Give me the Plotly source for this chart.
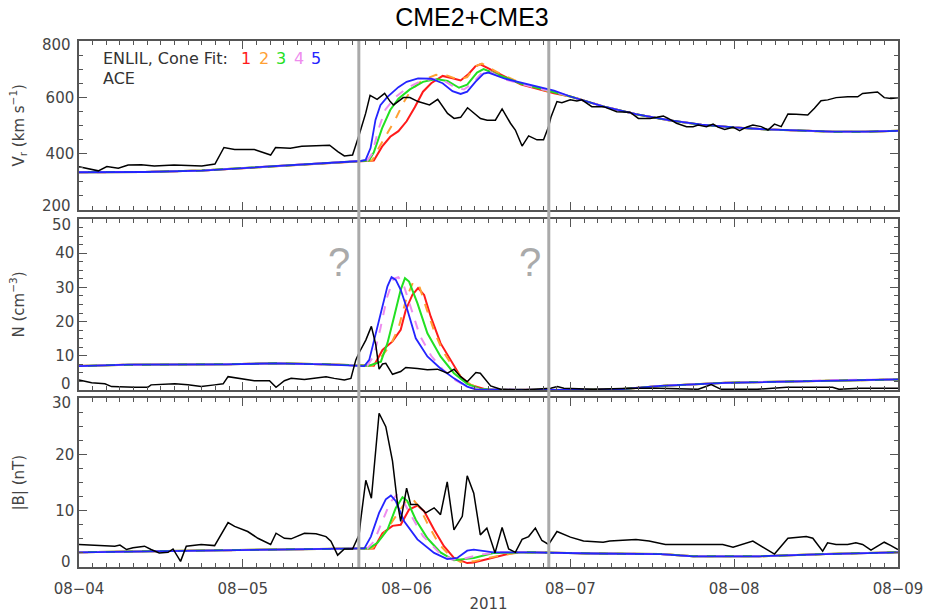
import numpy as np
import pandas as pd
import plotly.graph_objects as go

# ---------------- data (time in days after 2011-08-04 00:00) ----------------
# ACE observations
ACE_V_T = [0, 0.118, 0.17, 0.24, 0.30, 0.38, 0.46, 0.58, 0.75, 0.83, 0.885, 0.95, 1.07, 1.17, 1.20,
           1.29, 1.36, 1.46, 1.53, 1.58, 1.62, 1.67, 1.70, 1.71, 1.75, 1.777, 1.82, 1.866, 1.90, 1.92,
           1.98, 2.02, 2.07, 2.14, 2.19, 2.25, 2.29, 2.33, 2.372, 2.451, 2.492, 2.542, 2.583, 2.634,
           2.664, 2.705, 2.745, 2.796, 2.836, 2.867, 2.881, 2.918, 2.948, 2.999, 3.04, 3.07, 3.131,
           3.202, 3.283, 3.364, 3.415, 3.486, 3.527, 3.567, 3.597, 3.648, 3.709, 3.749, 3.78, 3.831,
           3.871, 3.901, 3.942, 3.993, 4.033, 4.074, 4.114, 4.165, 4.206, 4.246, 4.287, 4.328, 4.378,
           4.449, 4.49, 4.53, 4.571, 4.622, 4.693, 4.754, 4.784, 4.875, 4.916, 4.957, 5.0]
ACE_V = [354, 339, 354, 348, 360, 361, 356, 360, 356, 363, 422, 415, 415, 395, 422,
         419, 426, 427, 430, 407, 392, 395, 443, 466, 543, 607, 593, 614, 585, 573,
         599, 599, 585, 573, 593, 543, 525, 529, 563, 525, 519, 519, 559, 508,
         484, 427, 463, 449, 449, 496, 529, 585, 581, 591, 587, 591, 567,
         567, 549, 547, 525, 525, 529, 534, 525, 508, 496, 496, 502, 496,
         505, 494, 486, 494, 482, 494, 502, 496, 484, 505, 496, 541, 540,
         537, 561, 588, 591, 599, 602, 602, 614, 619, 599, 596, 599]

ACE_N_T = [0, 0.077, 0.158, 0.199, 0.34, 0.42, 0.44, 0.585, 0.665, 0.746, 0.828, 0.88, 0.91, 0.99,
           1.07, 1.163, 1.203, 1.254, 1.295, 1.376, 1.437, 1.508, 1.558, 1.62, 1.66, 1.69, 1.71,
           1.751, 1.785, 1.812, 1.832, 1.853, 1.873, 1.914, 1.964, 1.995, 2.066, 2.127, 2.188, 2.25,
           2.29, 2.33, 2.37, 2.423, 2.45, 2.513, 2.574, 2.7, 2.88, 2.92, 2.96, 3.14, 3.38, 3.54,
           3.78, 3.86, 3.92, 4.0, 4.14, 4.32, 4.6, 4.64, 4.76, 5.0]
ACE_N = [2.9, 2.1, 1.8, 1.0, 0.8, 0.8, 1.5, 1.8, 1.5, 1.0, 1.5, 1.8, 3.9, 3.4,
         2.7, 2.7, 0.8, 2.7, 3.4, 3.1, 3.4, 3.9, 3.4, 2.9, 3.4, 8.8, 10.9,
         14.6, 18.6, 13.2, 6.1, 7.6, 7.8, 4.6, 5.4, 6.6, 6.3, 5.9, 6.1, 4.9,
         6.1, 3.9, 2.4, 5.1, 4.9, 1.2, 0.2, 0.0, 0.5, 1.0, 0.5, 0.2, 0.5, 0.5,
         0.2, 1.6, 0.2, 0.2, 0.2, 0.8, 0.8, 0.2, 0.5, 0.5]

ACE_B_T = [0, 0.138, 0.219, 0.25, 0.29, 0.33, 0.40, 0.44, 0.49, 0.544, 0.574, 0.62, 0.655, 0.746,
           0.828, 0.91, 0.95, 1.03, 1.092, 1.17, 1.203, 1.254, 1.295, 1.376, 1.447, 1.508, 1.538,
           1.579, 1.62, 1.67, 1.71, 1.72, 1.751, 1.785, 1.832, 1.873, 1.914, 1.944, 1.964, 2.0,
           2.025, 2.066, 2.117, 2.168, 2.207, 2.248, 2.289, 2.34, 2.37, 2.41, 2.45, 2.49, 2.54,
           2.583, 2.623, 2.664, 2.705, 2.745, 2.786, 2.826, 2.867, 2.918, 3.0, 3.08, 3.2, 3.24,
           3.32, 3.4, 3.48, 3.58, 3.749, 3.89, 3.93, 3.993, 4.114, 4.246, 4.328, 4.44, 4.48, 4.54,
           4.57, 4.622, 4.693, 4.743, 4.784, 4.835, 4.875, 4.916, 4.957, 5.0]
ACE_B = [4.0, 3.8, 3.7, 3.9, 3.1, 3.4, 3.7, 3.1, 2.5, 2.6, 3.2, 1.0, 3.7, 4.0,
         3.8, 7.9, 7.2, 6.3, 5.1, 4.0, 6.0, 5.1, 5.0, 6.0, 5.9, 5.4, 4.6,
         2.1, 3.2, 3.2, 5.7, 8.4, 15.4, 12.2, 27.3, 24.9, 18.8, 11.4, 8.1, 14.0,
         11.1, 11.1, 9.6, 10.5, 9.3, 15.1, 6.6, 9.0, 16.2, 13.1, 5.7, 6.9, 2.5,
         7.0, 3.2, 2.6, 4.9, 5.4, 6.9, 4.7, 4.0, 6.3, 5.3, 4.6, 4.4, 4.6,
         4.7, 4.9, 4.6, 4.0, 4.0, 3.9, 4.0, 3.5, 4.6, 2.3, 5.1, 5.4, 5.1, 2.8,
         4.3, 4.0, 4.0, 4.3, 4.0, 3.0, 3.7, 4.4, 3.8, 3.1]

# ENLIL cone-fit runs 1..5 : shared pre-arrival background and late tail
BASE_V_T = [0, 0.4, 0.75, 1.17, 1.5, 1.72]
BASE_V = [334, 335, 340, 354, 365, 374]
TAIL_V_T = [3.0, 3.2, 3.4, 3.6, 3.8, 4.0, 4.2, 4.4, 4.6, 4.8, 5.0]
TAIL_V = [603, 568, 540, 519, 503, 493, 486, 482, 478, 478, 481]

RUN_V_T = {
    1: [1.80, 1.85, 1.90, 1.95, 2.00, 2.05, 2.10, 2.15, 2.22, 2.28, 2.33, 2.38, 2.42, 2.45, 2.55, 2.70, 2.90],
    2: [1.79, 1.83, 1.88, 1.93, 1.98, 2.03, 2.10, 2.18, 2.25, 2.32, 2.37, 2.42, 2.46, 2.55, 2.70, 2.90],
    3: [1.77, 1.80, 1.85, 1.90, 1.95, 2.02, 2.10, 2.18, 2.25, 2.32, 2.37, 2.43, 2.47, 2.55, 2.70, 2.90],
    4: [1.76, 1.79, 1.83, 1.87, 1.93, 2.00, 2.08, 2.16, 2.23, 2.30, 2.35, 2.40, 2.46, 2.50, 2.60, 2.80, 2.90],
    5: [1.75, 1.78, 1.81, 1.84, 1.88, 1.95, 2.00, 2.07, 2.15, 2.22, 2.28, 2.33, 2.37, 2.42, 2.47, 2.50, 2.60, 2.80, 2.90],
}
RUN_V = {
    1: [376, 425, 460, 480, 515, 565, 620, 650, 676, 668, 660, 684, 710, 717, 688, 645, 614],
    2: [376, 420, 470, 520, 580, 628, 662, 680, 677, 662, 672, 710, 720, 690, 650, 615],
    3: [376, 405, 490, 555, 595, 628, 655, 665, 658, 634, 645, 688, 700, 682, 648, 618],
    4: [376, 400, 490, 556, 600, 632, 656, 666, 658, 634, 628, 648, 688, 693, 664, 632, 620],
    5: [378, 420, 520, 572, 600, 636, 655, 667, 666, 650, 622, 612, 620, 655, 684, 688, 666, 638, 624],
}

BASE_N_T = [0, 0.3, 0.9, 1.2, 1.5, 1.72]
BASE_N = [7.0, 7.4, 7.5, 7.8, 7.5, 7.1]
TAIL_N_T = [2.55, 3.0, 3.3, 3.55, 3.95, 4.36, 4.62, 5.0]
TAIL_N = [0.1, 0.0, 0.2, 1.2, 2.1, 2.5, 2.9, 3.1]
RUN_N_T = {
    1: [1.80, 1.853, 1.914, 1.964, 1.995, 2.035, 2.07, 2.107, 2.147, 2.207, 2.27, 2.33, 2.39, 2.48],
    2: [1.79, 1.85, 1.90, 1.95, 2.00, 2.04, 2.08, 2.12, 2.17, 2.22, 2.30, 2.38, 2.46],
    3: [1.77, 1.843, 1.883, 1.924, 1.964, 1.99, 2.015, 2.066, 2.127, 2.207, 2.289, 2.37, 2.45],
    4: [1.76, 1.80, 1.84, 1.88, 1.92, 1.95, 1.98, 2.02, 2.08, 2.15, 2.22, 2.30, 2.38, 2.45],
    5: [1.742, 1.772, 1.812, 1.843, 1.883, 1.908, 1.934, 1.964, 2.005, 2.056, 2.127, 2.207, 2.289, 2.37, 2.42],
}
RUN_N = {
    1: [7.1, 11.7, 14.2, 17.6, 23.4, 27.8, 29.8, 27.8, 21.5, 13.7, 8.8, 3.9, 1.5, 0.2],
    2: [7.1, 10.0, 13.0, 18.0, 27.0, 31.6, 30.0, 24.0, 17.0, 11.5, 5.5, 1.8, 0.3],
    3: [7.1, 8.3, 13.7, 21.5, 29.3, 32.7, 31.7, 25.4, 16.6, 9.8, 4.9, 1.8, 0.3],
    4: [7.1, 10.0, 18.0, 27.0, 32.5, 33.0, 31.0, 25.0, 16.0, 10.0, 6.0, 2.8, 0.8, 0.2],
    5: [7.0, 8.8, 16.6, 23.4, 30.3, 33.0, 32.2, 29.3, 23.4, 15.1, 9.8, 6.3, 3.4, 1.0, 0.2],
}

BASE_B_T = [0, 0.4, 0.8, 1.2, 1.72]
BASE_B = [2.6, 2.8, 3.0, 3.1, 3.3]
TAIL_B_T = [2.75, 3.14, 3.55, 3.75, 4.15, 4.56, 5.0]
TAIL_B = [2.6, 2.4, 2.3, 1.9, 1.9, 2.3, 2.6]
RUN_B_T = {
    1: [1.80, 1.853, 1.914, 1.964, 2.015, 2.066, 2.107, 2.168, 2.228, 2.289, 2.37, 2.41, 2.53, 2.63, 2.69],
    2: [1.79, 1.84, 1.90, 1.95, 2.00, 2.04, 2.08, 2.14, 2.20, 2.27, 2.33, 2.41, 2.53, 2.67],
    3: [1.77, 1.822, 1.883, 1.934, 1.975, 2.005, 2.056, 2.127, 2.207, 2.289, 2.33, 2.41, 2.53, 2.67],
    4: [1.76, 1.80, 1.85, 1.90, 1.94, 1.97, 2.02, 2.10, 2.20, 2.28, 2.35, 2.45, 2.55],
    5: [1.742, 1.782, 1.832, 1.873, 1.904, 1.934, 1.985, 2.066, 2.168, 2.248, 2.309, 2.37, 2.41, 2.53],
}
RUN_B = {
    1: [3.3, 6.0, 7.3, 7.5, 10.2, 10.9, 9.9, 6.6, 3.7, 1.6, 0.7, 0.8, 1.6, 2.4, 2.6],
    2: [3.3, 5.0, 7.5, 9.5, 11.8, 12.0, 10.5, 7.0, 4.0, 1.8, 0.9, 1.0, 1.8, 2.5],
    3: [3.3, 4.3, 6.6, 10.5, 12.4, 11.7, 8.4, 5.1, 2.6, 1.2, 1.3, 1.6, 2.5, 2.6],
    4: [3.3, 4.5, 8.0, 11.5, 12.8, 12.2, 9.5, 5.5, 2.5, 1.3, 1.5, 2.2, 2.6],
    5: [3.3, 5.4, 9.6, 12.0, 12.7, 11.7, 8.1, 4.9, 2.5, 1.4, 1.6, 2.9, 3.1, 2.6],
}

RUN_LABELS = ["1", "2", "3", "4", "5"]
RUN_COLORS = {1: "#ff1a1a", 2: "#ffa033", 3: "#22e022", 4: "#ee8cee", 5: "#2424ff"}
RUN_DASH = {1: "solid", 2: "dash", 3: "solid", 4: "dash", 5: "solid"}

# y-axis major ticks of each panel (the end values are labelled slightly inward)
V_TICKS = [200, 400, 600, 800]
N_TICKS = [0, 10, 20, 30, 40, 50]
B_TICKS = [0, 10, 20, 30]

SHOCK_LINES = ["2011-08-05 17:00", "2011-08-06 20:50"]
QMARK_T = [1.585, 2.755]
QMARK_N = 37.4

T0 = pd.Timestamp("2011-08-04")


def to_dt(days):
    return T0 + pd.to_timedelta(np.asarray(days, dtype=float), unit="D")


fig = go.Figure()

panels = [
    ("y", ACE_V_T, ACE_V, BASE_V_T, BASE_V, RUN_V_T, RUN_V, TAIL_V_T, TAIL_V),
    ("y2", ACE_N_T, ACE_N, BASE_N_T, BASE_N, RUN_N_T, RUN_N, TAIL_N_T, TAIL_N),
    ("y3", ACE_B_T, ACE_B, BASE_B_T, BASE_B, RUN_B_T, RUN_B, TAIL_B_T, TAIL_B),
]
xref = {"y": "x", "y2": "x2", "y3": "x3"}
for yref, at, av, bt, bv, rt, rv, tt, tv in panels:
    for k in [1, 2, 3, 4, 5]:
        t = list(bt) + list(rt[k]) + list(tt)
        v = list(bv) + list(rv[k]) + list(tv)
        fig.add_trace(go.Scatter(x=to_dt(t), y=v, mode="lines", xaxis=xref[yref], yaxis=yref,
                                 line=dict(color=RUN_COLORS[k], width=2 if k != 5 else 1.8,
                                           dash=RUN_DASH[k]),
                                 showlegend=False, hoverinfo="skip"))
    fig.add_trace(go.Scatter(x=to_dt(at), y=av, mode="lines", xaxis=xref[yref], yaxis=yref,
                             line=dict(color="black", width=1.5), showlegend=False, hoverinfo="skip"))

W, H = 933, 613
ML, MR, MT, MB = 79, 35, 41, 46
PW, PH = W - ML - MR, H - MT - MB


def px_x(px):
    return (px - ML) / PW


def px_y(py):
    return (H - MB - py) / PH


LABEL_FONT = dict(family="DejaVu Sans", size=15, color="#444444")
axis_common = dict(showline=True, linecolor="#555555", linewidth=1.5, mirror="allticks",
                   ticks="inside", ticklen=8, tickcolor="#555555", tickwidth=1.2,
                   showgrid=False, zeroline=False, tickfont=LABEL_FONT, automargin=False)

xcommon = dict(axis_common, type="date", range=["2011-08-04", "2011-08-09"],
               tick0="2011-08-04", dtick=86400000, tickformat="%m\u2212%d",
               minor=dict(dtick=7200000, ticks="inside", ticklen=4, tickcolor="#555555",
                          tickwidth=1.2, showgrid=False))


def inner_text(ticks):
    return [""] + [str(t) for t in ticks[1:-1]] + [""]


doms = [(px_y(210), px_y(41)), (px_y(390), px_y(219)), (px_y(567), px_y(398))]
yminor = dict(ticks="inside", ticklen=4, tickcolor="#555555", tickwidth=1.2)

fig.update_layout(
    width=W, height=H,
    margin=dict(l=ML, r=MR, t=MT, b=MB, autoexpand=False),
    paper_bgcolor="white", plot_bgcolor="white",
    xaxis=dict(xcommon, anchor="y", showticklabels=False, matches="x3"),
    xaxis2=dict(xcommon, anchor="y2", showticklabels=False, matches="x3"),
    xaxis3=dict(xcommon, anchor="y3", ticklabelstandoff=7,
                title=dict(text="2011", font=LABEL_FONT, standoff=4)),
    yaxis=dict(axis_common, domain=list(doms[0]), anchor="x", range=[200, 800],
               tickmode="array", tickvals=V_TICKS, ticktext=inner_text(V_TICKS),
               minor=dict(yminor, dtick=50, tick0=200)),
    yaxis2=dict(axis_common, domain=list(doms[1]), anchor="x2", range=[0, 50],
                tickmode="array", tickvals=N_TICKS, ticktext=inner_text(N_TICKS),
                minor=dict(yminor, dtick=2.5, tick0=0)),
    yaxis3=dict(axis_common, domain=list(doms[2]), anchor="x3", range=[0, 30],
                tickmode="array", tickvals=B_TICKS, ticktext=inner_text(B_TICKS),
                minor=dict(yminor, dtick=2.5, tick0=0)),
    title=dict(text="CME2+CME3", x=472 / W, xref="container", xanchor="center",
               y=1 - 17.5 / H, yref="container", yanchor="middle",
               font=dict(family="Liberation Sans", size=25, color="black")),
)

# end-of-range tick labels, nudged inward like the reference
end_labels = [(V_TICKS[-1], 45), (V_TICKS[0], 206), (N_TICKS[-1], 225), (N_TICKS[0], 384),
              (B_TICKS[-1], 403), (B_TICKS[0], 562)]
for val, py in end_labels:
    fig.add_annotation(x=px_x(73), y=px_y(py), xref="paper", yref="paper", text=str(val),
                       showarrow=False, xanchor="right", yanchor="middle", font=LABEL_FONT)

for s in SHOCK_LINES:
    fig.add_shape(type="line", xref="x3", yref="paper", x0=s, x1=s, y0=0, y1=1,
                  line=dict(color="#aaaaaa", width=3), layer="above")

for qt in QMARK_T:
    fig.add_annotation(x=to_dt([qt])[0], y=QMARK_N, xref="x2", yref="y2", text="?",
                       showarrow=False, font=dict(family="Liberation Sans", size=40, color="#aaaaaa"))

# y axis titles
ytitles = [("V<sub>r</sub> (km s<sup>\u22121</sup>)", 125.5),
           ("N (cm<sup>\u22123</sup>)", 304.5),
           ("|B| (nT)", 482.5)]
for txt, py in ytitles:
    fig.add_annotation(x=px_x(18), y=px_y(py), xref="paper", yref="paper", text=txt,
                       textangle=-90, showarrow=False, xanchor="center", yanchor="middle",
                       font=dict(family="DejaVu Sans", size=15, color="#444444"))

# legend text
LEG_FONT = dict(family="DejaVu Sans", size=16, color="#333333")
fig.add_annotation(x=px_x(101), y=px_y(58), xref="paper", yref="paper", text="ENLIL, Cone Fit:",
                   showarrow=False, xanchor="left", yanchor="middle", font=LEG_FONT)
fig.add_annotation(x=px_x(101), y=px_y(79), xref="paper", yref="paper", text="ACE",
                   showarrow=False, xanchor="left", yanchor="middle", font=LEG_FONT)
num_x = [246, 263.5, 281, 298.5, 316]
for k, lab, nx in zip([1, 2, 3, 4, 5], RUN_LABELS, num_x):
    fig.add_annotation(x=px_x(nx), y=px_y(58), xref="paper", yref="paper", text=lab,
                       showarrow=False, xanchor="center", yanchor="middle",
                       font=dict(LEG_FONT, color=RUN_COLORS[k]))

fig.write_html("out.html")
